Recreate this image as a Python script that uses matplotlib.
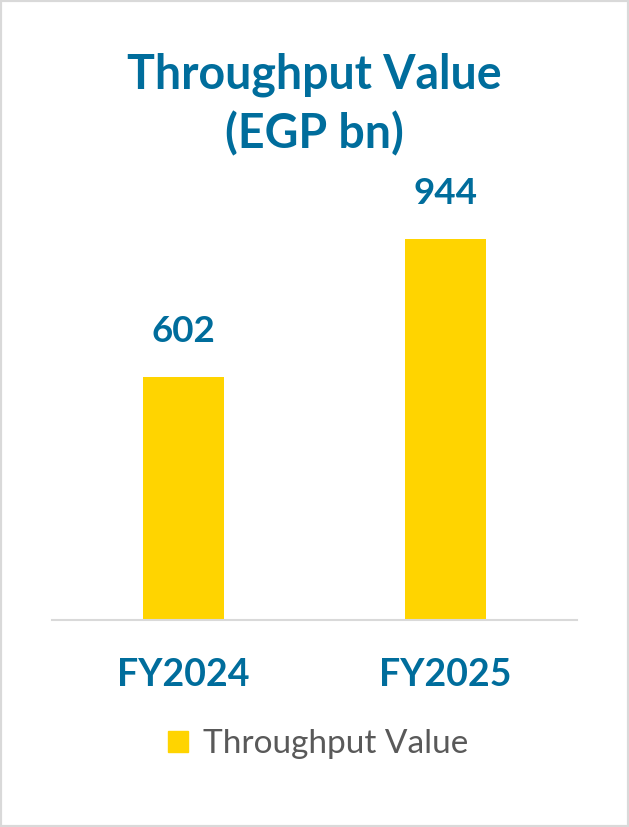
import matplotlib
matplotlib.use('Agg')
import matplotlib.pyplot as plt
from matplotlib.patches import Patch, Rectangle

# data
years  = ['FY2024', 'FY2025']
values = [602, 944]
series = 'Throughput Value'
title  = 'Throughput Value\n(EGP bn)'

C_BAR, C_TXT, C_GRID, C_LEG = '#FFD400', '#006D9C', '#D9D9D9', '#595959'
plt.rcParams['font.family'] = ['Lato', 'DejaVu Sans']

fig = plt.figure(figsize=(6.29, 8.27), dpi=100)
ax = fig.add_axes([52/629, 1 - 620/827, 525/629, 470/827])

x = range(len(years))
ax.bar(x, values, width=0.31, color=C_BAR, label=series, zorder=2)
ax.set_xlim(-0.5, 1.5)
ax.set_ylim(0, 1165)

for xi, v in zip(x, values):
    ax.annotate(f'{v}', (xi, v), xytext=(0, 21), textcoords='offset points',
                ha='center', va='bottom', fontsize=26.5, fontweight='bold', color=C_TXT)

ax.set_xticks(list(x))
ax.set_xticklabels(years, fontsize=27, fontweight='bold', color=C_TXT)
ax.tick_params(axis='x', length=0, pad=27.5)
ax.set_yticks([])
for s in ('top', 'left', 'right'):
    ax.spines[s].set_visible(False)
ax.spines['bottom'].set_color(C_GRID)
ax.spines['bottom'].set_linewidth(1.5)

fig.text(0.5, 1 - 104/827, title, ha='center', va='center', fontsize=33.5,
         fontweight='bold', color=C_TXT, linespacing=1.38)

fig.legend(handles=[Patch(color=C_BAR, label=series)], loc='center',
           bbox_to_anchor=(318/629, 1 - 744/827), frameon=False, fontsize=24,
           labelcolor=C_LEG, handlelength=0.6, handleheight=0.6, handletextpad=0.45)

fig.patches.append(Rectangle((0, 0), 1, 1, transform=fig.transFigure, fill=False,
                             edgecolor=C_GRID, linewidth=3))

fig.savefig('out.png', dpi=100)
